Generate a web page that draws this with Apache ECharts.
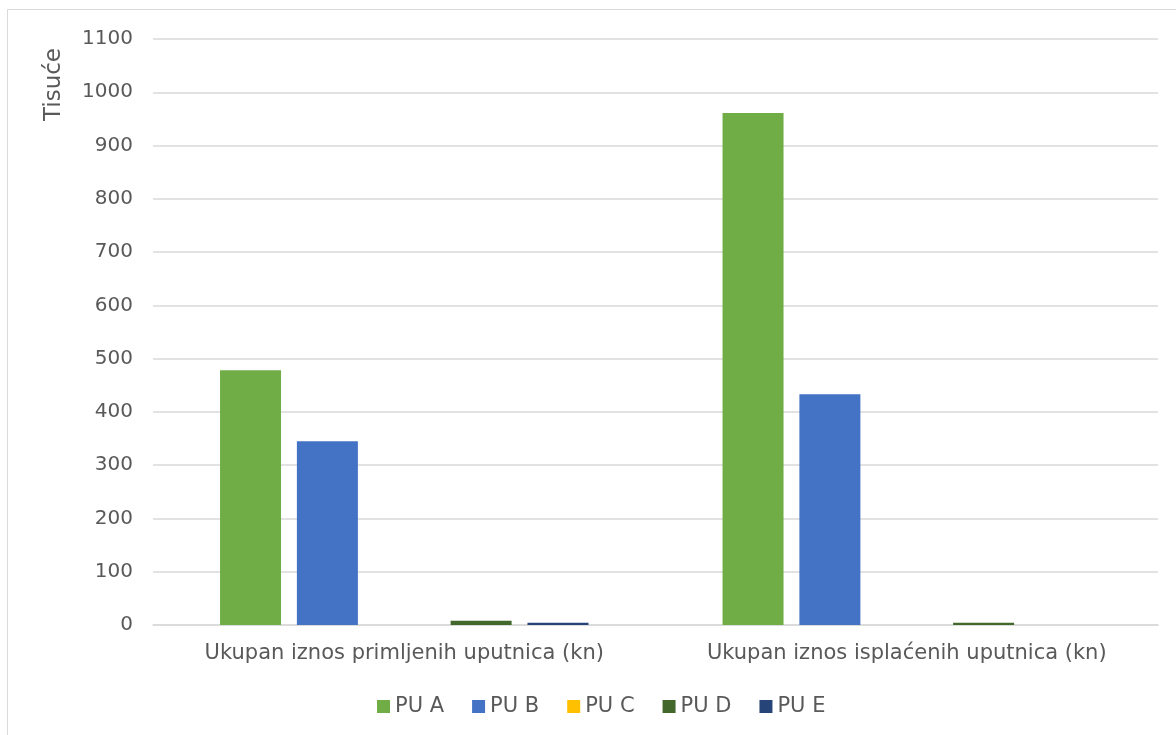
<!DOCTYPE html>
<html><head><meta charset="utf-8">
<script src="https://cdn.jsdelivr.net/npm/echarts@6/dist/echarts.min.js"></script>
<style>html,body{margin:0;padding:0;background:#fff}#c{width:1176px;height:735px}</style>
</head><body><div id="c"></div>
<script>
const categories = ['Ukupan iznos primljenih uputnica (kn)', 'Ukupan iznos isplaćenih uputnica (kn)'];
const seriesNames = ['PU A', 'PU B', 'PU C', 'PU D', 'PU E'];
const puA = [478, 961];
const puB = [345, 433];
const puC = [0, 0];
const puD = [8, 4];
const puE = [4, 0];
const colors = ['#70ad47', '#4472c4', '#ffc000', '#43682b', '#264478'];
const yTicks = [0, 100, 200, 300, 400, 500, 600, 700, 800, 900, 1000, 1100];
const dataSets = [puA, puB, puC, puD, puE];
const FONT = 'DejaVu Sans, Verdana, sans-serif';

const chart = echarts.init(document.getElementById('c'));
chart.setOption({
  animation: false,
  textStyle: {fontFamily: FONT},
  graphic: [
    {type: 'rect', shape: {x: 7.5, y: 9.5, width: 1187, height: 800}, style: {fill: 'none', stroke: '#d9d9d9', lineWidth: 1}, silent: true},
    {type: 'text', left: 43, top: 48, rotation: Math.PI / 2, style: {text: 'Tisuće', fill: '#595959', font: '23px ' + FONT}}
  ],
  grid: {left: 153, right: 18, top: 39, bottom: 110},
  legend: {
    top: 696, left: 377, padding: 0, itemWidth: 13, itemHeight: 13, itemGap: 28,
    icon: 'rect',
    textStyle: {color: '#595959', fontSize: 21, fontFamily: FONT},
    data: seriesNames
  },
  xAxis: {
    type: 'category', data: categories,
    axisLine: {lineStyle: {color: '#d9d9d9', width: 1.5}},
    axisTick: {show: false},
    axisLabel: {color: '#595959', fontSize: 21, margin: 18, fontFamily: FONT, interval: 0}
  },
  yAxis: {
    type: 'value', min: 0, max: 1100, interval: 100,
    axisLine: {show: false}, axisTick: {show: false},
    axisLabel: {color: '#595959', fontSize: 20, margin: 20, fontFamily: FONT,
      formatter: v => yTicks.includes(v) ? String(v) : ''},
    splitLine: {lineStyle: {color: '#d9d9d9', width: 1.5}}
  },
  series: seriesNames.map((n, i) => ({
    name: n, type: 'bar', data: dataSets[i], barWidth: 61, barGap: '26%',
    itemStyle: {color: colors[i]}
  }))
});
</script></body></html>
